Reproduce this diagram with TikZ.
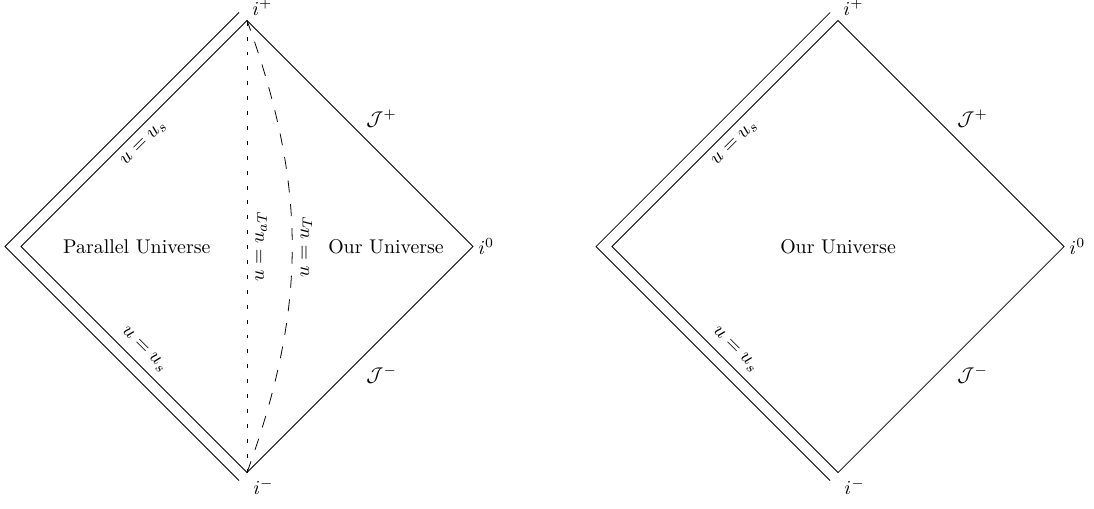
\documentclass[tikz,border=0pt]{standalone}
\usetikzlibrary{calc}

\begin{document}
\begin{tikzpicture}[
    tag/.style={inner sep=2.5pt},
    edge/.style={inner sep=4pt},
    scri/.style={inner sep=3pt},
    horizon/.style={dash pattern=on 2pt off 5.5pt},
    shell/.style={dash pattern=on 6pt off 6pt}
]
\path[use as bounding box] (-4.372,-4.628) rectangle (14.99,4.363);

% two Penrose diamonds, the left one with the parallel patch
\foreach \n/\x in {a/0,b/10.46} {
    \coordinate (top\n) at (\x,4);
    \coordinate (bot\n) at (\x,-4);
    \coordinate (lft\n) at (\x-4,0);
    \coordinate (rgt\n) at (\x+4,0);
    \coordinate (ot\n) at ($(top\n)+(-0.1414,0.1414)$);
    \coordinate (ol\n) at ($(lft\n)+(-0.2828,0)$);
    \coordinate (ob\n) at ($(bot\n)+(-0.1414,-0.1414)$);
    \draw (top\n) -- (rgt\n) -- (bot\n) -- (lft\n) -- cycle;
    \draw (ot\n) -- (ol\n) -- (ob\n);
    \path (lft\n) -- node[midway,sloped,below,edge] {$u=u_s$} (top\n);
    \path (lft\n) -- node[midway,sloped,above,edge] {$u=u_s$} (bot\n);
    \node[anchor=south west,tag] (ip\n) at (top\n) {$i^+$};
    \node[anchor=west,tag] (io\n) at (rgt\n) {$i^0$};
    \node[anchor=north west,inner sep=3pt] (im\n) at (bot\n) {$i^-$};
    \node[anchor=south west,scri] (jp\n) at ($(top\n)!0.5!(rgt\n)$) {$\mathcal{J}^+$};
    \node[anchor=north west,scri] (jm\n) at ($(bot\n)!0.5!(rgt\n)$) {$\mathcal{J}^-$};
}

\draw[horizon] (bota) -- node[midway,sloped,below,edge] {$u=u_{aT}$} (topa);
\draw[shell] (bota) to[bend right=20] node[midway,sloped,below,edge] {$u=u_T$} (topa);

\node (par) at (-1.95,0) {Parallel Universe};
\node (oura) at (2.46,0) {Our Universe};
\node (ourb) at (10.46,0) {Our Universe};
\end{tikzpicture}
\end{document}
